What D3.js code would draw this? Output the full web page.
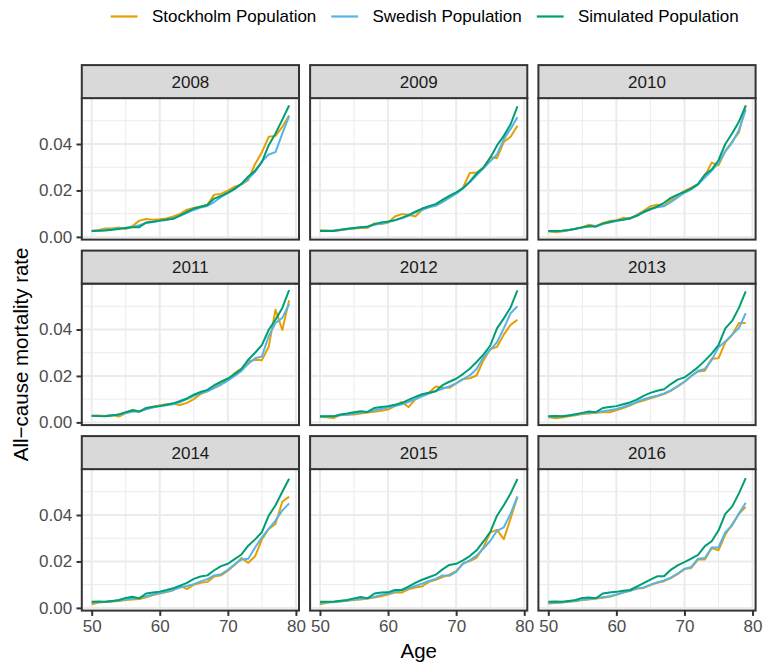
<!DOCTYPE html>
<html><head><meta charset="utf-8">
<script src="https://cdn.jsdelivr.net/npm/d3@7"></script>
<style>
body{margin:0;background:#fff}
svg{display:block}
text{font-family:"Liberation Sans",Arial,Helvetica,sans-serif}
</style>
</head><body>
<svg id="chart" width="764" height="667"></svg>
<script>
const years = [2008, 2009, 2010, 2011, 2012, 2013, 2014, 2015, 2016];
const ages = [50,51,52,53,54,55,56,57,58,59,60,61,62,63,64,65,66,67,68,69,70,71,72,73,74,75,76,77,78,79];
const seriesNames = ["Stockholm Population", "Swedish Population", "Simulated Population"];
const seriesColors = ["#E69F00", "#56B4E9", "#009E73"];
const xTicks = [50, 60, 70, 80];
const yTicks = [0, 0.02, 0.04];
const yTickLabels = ["0.00", "0.02", "0.04"];

const stockholm = [
  [.0025,.0030,.0036,.0036,.0041,.0034,.0047,.0070,.0077,.0074,.0076,.0079,.0088,.0099,.0117,.0124,.0131,.0139,.0182,.0185,.0199,.0216,.0226,.0244,.0314,.0365,.0431,.0435,.0474,.0523],
  [.0029,.0027,.0026,.0029,.0033,.0036,.0038,.0039,.0058,.0055,.0061,.0088,.0098,.0095,.0088,.0117,.0128,.0140,.0158,.0173,.0188,.0212,.0275,.0277,.0296,.0343,.0339,.0409,.0431,.0479],
  [.0024,.0020,.0023,.0029,.0035,.0042,.0052,.0046,.0060,.0068,.0072,.0082,.0078,.0095,.0112,.0132,.0138,.0136,.0158,.0178,.0198,.0212,.0226,.0262,.0320,.0308,.0370,.0410,.0450,.0568],
  [.0027,.0030,.0028,.0032,.0025,.0040,.0054,.0047,.0058,.0066,.0074,.0078,.0080,.0075,.0084,.0100,.0122,.0135,.0152,.0168,.0185,.0212,.0232,.0262,.0270,.0268,.0326,.0485,.0398,.0526],
  [.0023,.0022,.0019,.0032,.0033,.0034,.0038,.0042,.0046,.0050,.0055,.0070,.0088,.0066,.0099,.0117,.0128,.0155,.0150,.0149,.0168,.0187,.0190,.0202,.0267,.0315,.0325,.0378,.0420,.0442],
  [.0023,.0018,.0021,.0026,.0031,.0036,.0038,.0041,.0044,.0044,.0052,.0062,.0072,.0086,.0094,.0104,.0112,.0122,.0136,.0155,.0174,.0200,.0219,.0222,.0274,.0276,.0345,.0376,.0428,.0428],
  [.0016,.0023,.0025,.0027,.0030,.0034,.0036,.0038,.0046,.0055,.0062,.0068,.0076,.0096,.0081,.0100,.0108,.0112,.0135,.0140,.0160,.0185,.0215,.0194,.0222,.0295,.0340,.0362,.0457,.0479],
  [.0016,.0022,.0025,.0028,.0031,.0034,.0036,.0040,.0045,.0050,.0057,.0066,.0066,.0080,.0088,.0092,.0112,.0121,.0133,.0143,.0158,.0192,.0202,.0216,.0260,.0325,.0336,.0296,.0385,.0479],
  [.0019,.0021,.0023,.0026,.0029,.0034,.0036,.0040,.0044,.0048,.0056,.0066,.0074,.0082,.0086,.0098,.0108,.0115,.0128,.0145,.0167,.0172,.0208,.0208,.0258,.0248,.0316,.0360,.0405,.0435]
];
const swedish = [
  [.0025,.0027,.0030,.0033,.0036,.0039,.0043,.0050,.0060,.0064,.0069,.0073,.0080,.0091,.0104,.0116,.0126,.0133,.0150,.0172,.0188,.0205,.0228,.0250,.0280,.0325,.0355,.0365,.0445,.0520],
  [.0025,.0026,.0027,.0030,.0034,.0037,.0041,.0045,.0052,.0058,.0064,.0071,.0080,.0091,.0105,.0117,.0127,.0134,.0150,.0168,.0186,.0208,.0235,.0265,.0295,.0325,.0355,.0420,.0465,.0515],
  [.0024,.0024,.0026,.0030,.0035,.0040,.0045,.0047,.0055,.0062,.0068,.0074,.0080,.0092,.0106,.0118,.0128,.0132,.0150,.0170,.0190,.0205,.0225,.0255,.0285,.0318,.0368,.0405,.0460,.0548],
  [.0027,.0028,.0028,.0031,.0034,.0040,.0046,.0048,.0056,.0064,.0070,.0074,.0078,.0088,.0100,.0114,.0125,.0134,.0148,.0162,.0180,.0200,.0222,.0252,.0276,.0284,.0372,.0428,.0450,.0510],
  [.0025,.0025,.0027,.0031,.0034,.0038,.0042,.0046,.0052,.0058,.0064,.0070,.0078,.0088,.0100,.0112,.0124,.0135,.0145,.0155,.0168,.0185,.0202,.0230,.0280,.0312,.0345,.0405,.0470,.0500],
  [.0025,.0025,.0026,.0030,.0034,.0038,.0042,.0044,.0048,.0052,.0058,.0066,.0076,.0088,.0100,.0108,.0115,.0125,.0138,.0156,.0176,.0200,.0222,.0230,.0268,.0324,.0348,.0378,.0406,.0470],
  [.0024,.0025,.0026,.0029,.0032,.0036,.0040,.0043,.0050,.0058,.0064,.0070,.0078,.0088,.0094,.0102,.0114,.0124,.0140,.0145,.0164,.0188,.0208,.0212,.0260,.0304,.0340,.0376,.0420,.0450],
  [.0022,.0024,.0026,.0029,.0032,.0036,.0040,.0042,.0048,.0056,.0062,.0068,.0076,.0084,.0094,.0104,.0116,.0125,.0140,.0138,.0155,.0190,.0205,.0225,.0256,.0288,.0332,.0347,.0406,.0479],
  [.0022,.0023,.0024,.0027,.0031,.0035,.0038,.0042,.0046,.0050,.0058,.0066,.0074,.0084,.0088,.0100,.0110,.0118,.0130,.0148,.0168,.0176,.0212,.0215,.0260,.0260,.0326,.0355,.0406,.0453]
];
const simulated = [
  [.0025,.0026,.0028,.0031,.0034,.0038,.0041,.0042,.0062,.0065,.0070,.0075,.0078,.0093,.0108,.0122,.0130,.0137,.0165,.0176,.0191,.0208,.0228,.0260,.0285,.0322,.0395,.0445,.0505,.0566],
  [.0025,.0025,.0025,.0031,.0035,.0038,.0041,.0044,.0055,.0062,.0066,.0072,.0082,.0094,.0109,.0122,.0132,.0141,.0159,.0177,.0192,.0210,.0238,.0273,.0299,.0340,.0394,.0435,.0485,.0562],
  [.0025,.0025,.0026,.0030,.0035,.0041,.0047,.0044,.0057,.0064,.0070,.0074,.0080,.0091,.0107,.0120,.0130,.0147,.0168,.0182,.0194,.0208,.0228,.0268,.0290,.0330,.0400,.0445,.0496,.0564],
  [.0029,.0027,.0026,.0030,.0034,.0044,.0052,.0046,.0062,.0067,.0070,.0076,.0082,.0092,.0103,.0119,.0131,.0140,.0160,.0175,.0189,.0208,.0230,.0270,.0300,.0333,.0399,.0442,.0493,.0570],
  [.0026,.0026,.0026,.0034,.0038,.0044,.0048,.0045,.0062,.0066,.0070,.0076,.0083,.0097,.0110,.0121,.0128,.0134,.0160,.0175,.0188,.0208,.0231,.0260,.0292,.0330,.0405,.0448,.0495,.0568],
  [.0026,.0027,.0026,.0030,.0035,.0041,.0047,.0044,.0062,.0066,.0070,.0078,.0086,.0098,.0114,.0127,.0136,.0143,.0165,.0184,.0194,.0215,.0238,.0266,.0296,.0333,.0405,.0437,.0493,.0564],
  [.0026,.0027,.0026,.0030,.0034,.0043,.0048,.0041,.0062,.0066,.0070,.0077,.0085,.0096,.0108,.0125,.0135,.0140,.0162,.0180,.0190,.0210,.0230,.0268,.0295,.0326,.0397,.0442,.0500,.0556],
  [.0026,.0026,.0026,.0031,.0034,.0041,.0047,.0041,.0062,.0066,.0067,.0077,.0077,.0092,.0108,.0121,.0132,.0143,.0166,.0185,.0190,.0205,.0223,.0248,.0286,.0326,.0397,.0442,.0493,.0555],
  [.0026,.0027,.0026,.0030,.0034,.0043,.0045,.0041,.0062,.0066,.0069,.0074,.0077,.0092,.0107,.0122,.0136,.0136,.0164,.0183,.0197,.0212,.0228,.0266,.0287,.0333,.0405,.0436,.0493,.0559]
];
const seriesData = [stockholm, swedish, simulated];

// ---- layout ----
const W = 764, H = 667;
const panelLeft0 = 81.8, panelW = 217.2, colPitch = 228.3;
const stripTop0 = 65.1, stripH = 33, panelH = 141.5, rowPitch = 185.5;
const nCols = 3;
const fontStack = '"Liberation Sans", Arial, Helvetica, sans-serif';

const svg = d3.select("#chart");
svg.append("rect").attr("width", W).attr("height", H).attr("fill", "#fff");

// scales (ggplot-style 5% expansion)
const xMin = d3.min(ages), xMax = d3.max(ages), xPad = (xMax - xMin) * 0.05;
const x = d3.scaleLinear().domain([xMin - xPad, xMax + xPad]).range([0, panelW]);
const allVals = seriesData.flatMap(s => s.flat());
const vMin = d3.min(allVals), vMax = d3.max(allVals), vPad = (vMax - vMin) * 0.05;
const y = d3.scaleLinear().domain([vMin - vPad, vMax + vPad]).range([panelH, 0]);

const xMinor = [55, 65, 75];
const yMinor = [0.01, 0.03, 0.05];

const line = d3.line().x(d => x(d.age)).y(d => y(d.v));

years.forEach((yr, i) => {
  const col = i % nCols, row = Math.floor(i / nCols);
  const px = panelLeft0 + col * colPitch;
  const stripTop = stripTop0 + row * rowPitch;
  const py = stripTop + stripH;
  const g = svg.append("g").attr("transform", `translate(${px},${py})`);

  g.append("rect").attr("width", panelW).attr("height", panelH).attr("fill", "#fff");
  g.selectAll(".vminor").data(xMinor).join("line")
    .attr("x1", d => x(d)).attr("x2", d => x(d)).attr("y1", 0).attr("y2", panelH)
    .attr("stroke", "#ebebeb").attr("stroke-width", 1);
  g.selectAll(".hminor").data(yMinor).join("line")
    .attr("y1", d => y(d)).attr("y2", d => y(d)).attr("x1", 0).attr("x2", panelW)
    .attr("stroke", "#ebebeb").attr("stroke-width", 1);
  g.selectAll(".vmajor").data(xTicks).join("line")
    .attr("x1", d => x(d)).attr("x2", d => x(d)).attr("y1", 0).attr("y2", panelH)
    .attr("stroke", "#ebebeb").attr("stroke-width", 2);
  g.selectAll(".hmajor").data(yTicks).join("line")
    .attr("y1", d => y(d)).attr("y2", d => y(d)).attr("x1", 0).attr("x2", panelW)
    .attr("stroke", "#ebebeb").attr("stroke-width", 2);

  seriesData.forEach((s, k) => {
    const pts = ages.map((a, j) => ({age: a, v: s[i][j]}));
    g.append("path").datum(pts).attr("d", line)
      .attr("fill", "none").attr("stroke", seriesColors[k])
      .attr("stroke-width", 2).attr("stroke-linejoin", "round");
  });

  g.append("rect").attr("width", panelW).attr("height", panelH)
    .attr("fill", "none").attr("stroke", "#333333").attr("stroke-width", 2);

  svg.append("rect").attr("x", px).attr("y", stripTop).attr("width", panelW).attr("height", stripH)
    .attr("fill", "#d9d9d9").attr("stroke", "#333333").attr("stroke-width", 2);
  svg.append("text").attr("x", px + panelW / 2).attr("y", stripTop + stripH / 2)
    .attr("dy", "0.35em").attr("text-anchor", "middle")
    .attr("font-size", 17).attr("fill", "#1a1a1a").text(yr);

  if (col === 0) {
    const ax = g.append("g").call(d3.axisLeft(y).tickValues(yTicks)
      .tickFormat((d, j) => yTickLabels[j]).tickSize(5.3).tickPadding(4.3));
    ax.select(".domain").remove();
    ax.selectAll("line").attr("stroke", "#333333").attr("stroke-width", 2);
    ax.selectAll("text").attr("font-size", 17).attr("fill", "#4d4d4d").attr("font-family", fontStack);
  }
  if (row === 2) {
    const ax = g.append("g").attr("transform", `translate(0,${panelH})`)
      .call(d3.axisBottom(x).tickValues(xTicks).tickSize(5.3).tickPadding(4.3));
    ax.select(".domain").remove();
    ax.selectAll("line").attr("stroke", "#333333").attr("stroke-width", 2);
    ax.selectAll("text").attr("font-size", 17).attr("fill", "#4d4d4d").attr("font-family", fontStack);
  }
});

// axis titles
const panelsLeft = panelLeft0, panelsRight = panelLeft0 + 2 * colPitch + panelW;
const panelsTop = stripTop0 + stripH, panelsBottom = stripTop0 + 2 * rowPitch + stripH + panelH;
svg.append("text").attr("x", (panelsLeft + panelsRight) / 2).attr("y", 658)
  .attr("text-anchor", "middle").attr("font-size", 20.5).attr("fill", "#000").text("Age");
svg.append("text")
  .attr("transform", `translate(28,${(panelsTop + panelsBottom) / 2}) rotate(-90)`)
  .attr("text-anchor", "middle").attr("font-size", 20.5).attr("fill", "#000")
  .text("All\u2212cause mortality rate");

// legend
const legend = svg.append("g");
const keyW = 33.5, keyGap = 11, itemGap = 11.65, legendCenter = 423, legendY = 16.5;
let cx = 0;
seriesNames.forEach((name, k) => {
  const it = legend.append("g");
  it.append("line").attr("x1", cx + keyW * 0.1).attr("x2", cx + keyW * 0.9)
    .attr("y1", legendY).attr("y2", legendY)
    .attr("stroke", seriesColors[k]).attr("stroke-width", 2.2);
  const t = it.append("text").attr("x", cx + keyW + keyGap).attr("y", legendY)
    .attr("dy", "0.35em").attr("font-size", 17).attr("fill", "#000").text(name);
  cx += keyW + keyGap + t.node().getComputedTextLength() + itemGap;
});
const totalW = cx - itemGap;
legend.attr("transform", `translate(${legendCenter - totalW / 2},0)`);
</script>
</body></html>
